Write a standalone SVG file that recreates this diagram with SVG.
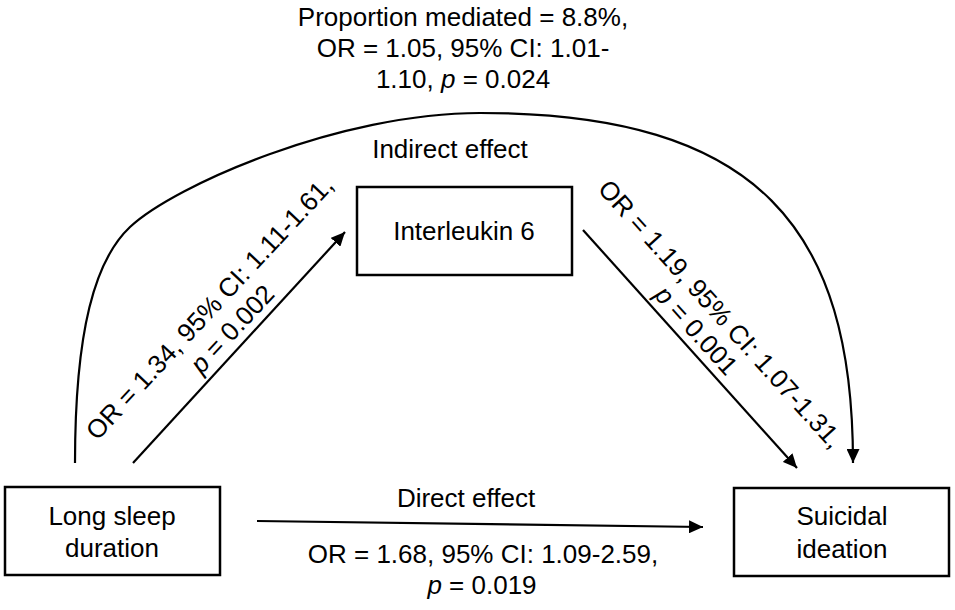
<svg xmlns="http://www.w3.org/2000/svg" width="955" height="610" viewBox="0 0 955 610">
<style>
text{font-family:"Liberation Sans",Arial,sans-serif;font-size:26px;fill:#000}
.box{fill:#fff;stroke:#000;stroke-width:2.5}
.edge{fill:none;stroke:#000;stroke-width:2.2}
.c{text-anchor:middle}
.i{font-style:italic}
</style>
<defs>
<marker id="ah" viewBox="0 0 14 13" refX="14" refY="6.5" markerWidth="14" markerHeight="13" markerUnits="userSpaceOnUse" orient="auto">
<path d="M0,0 L14,6.5 L0,13 z" fill="#000"/>
</marker>
</defs>
<g id="connectors">
<path class="edge" d="M75,463 C75,330 95,260 130,227 C175,185 340,113 480,113 C760,113 853,230 853,463" marker-end="url(#ah)"/>
<line class="edge" x1="133" y1="463" x2="345" y2="232" marker-end="url(#ah)"/>
<line class="edge" x1="583" y1="230" x2="797" y2="468" marker-end="url(#ah)"/>
<line class="edge" x1="257" y1="521" x2="703" y2="527" marker-end="url(#ah)"/>
</g>
<g id="labels">
<text class="c"><tspan x="463" y="26">Proportion mediated = 8.8%,</tspan><tspan x="463" y="57">OR = 1.05, 95% CI: 1.01-</tspan><tspan x="463" y="88">1.10, <tspan class="i">p</tspan> = 0.024</tspan></text>
<text class="c" x="450" y="158">Indirect effect</text>
<text class="c" transform="translate(216,314) rotate(-47)"><tspan x="0" y="0">OR = 1.34, 95% CI: 1.11-1.61,</tspan><tspan x="0" y="31"><tspan class="i">p</tspan> = 0.002</tspan></text>
<text class="c" transform="translate(714,320) rotate(48)"><tspan x="0" y="0">OR = 1.19, 95% CI: 1.07-1.31,</tspan><tspan x="-4" y="29"><tspan class="i">p</tspan> = 0.001</tspan></text>
<text class="c" x="466" y="507">Direct effect</text>
<text class="c"><tspan x="483" y="563">OR = 1.68, 95% CI: 1.09-2.59,</tspan><tspan x="482" y="594"><tspan class="i">p</tspan> = 0.019</tspan></text>
</g>
<g id="node-sleep">
<rect class="box" x="5" y="487" width="215" height="88"/>
<text class="c"><tspan x="112" y="525">Long sleep</tspan><tspan x="112" y="557">duration</tspan></text>
</g>
<g id="node-il6">
<rect class="box" x="357" y="187" width="215" height="88"/>
<text class="c" x="464" y="240">Interleukin 6</text>
</g>
<g id="node-suicidal">
<rect class="box" x="734" y="488" width="215" height="88"/>
<text class="c"><tspan x="842" y="525">Suicidal</tspan><tspan x="842" y="558">ideation</tspan></text>
</g>
</svg>
